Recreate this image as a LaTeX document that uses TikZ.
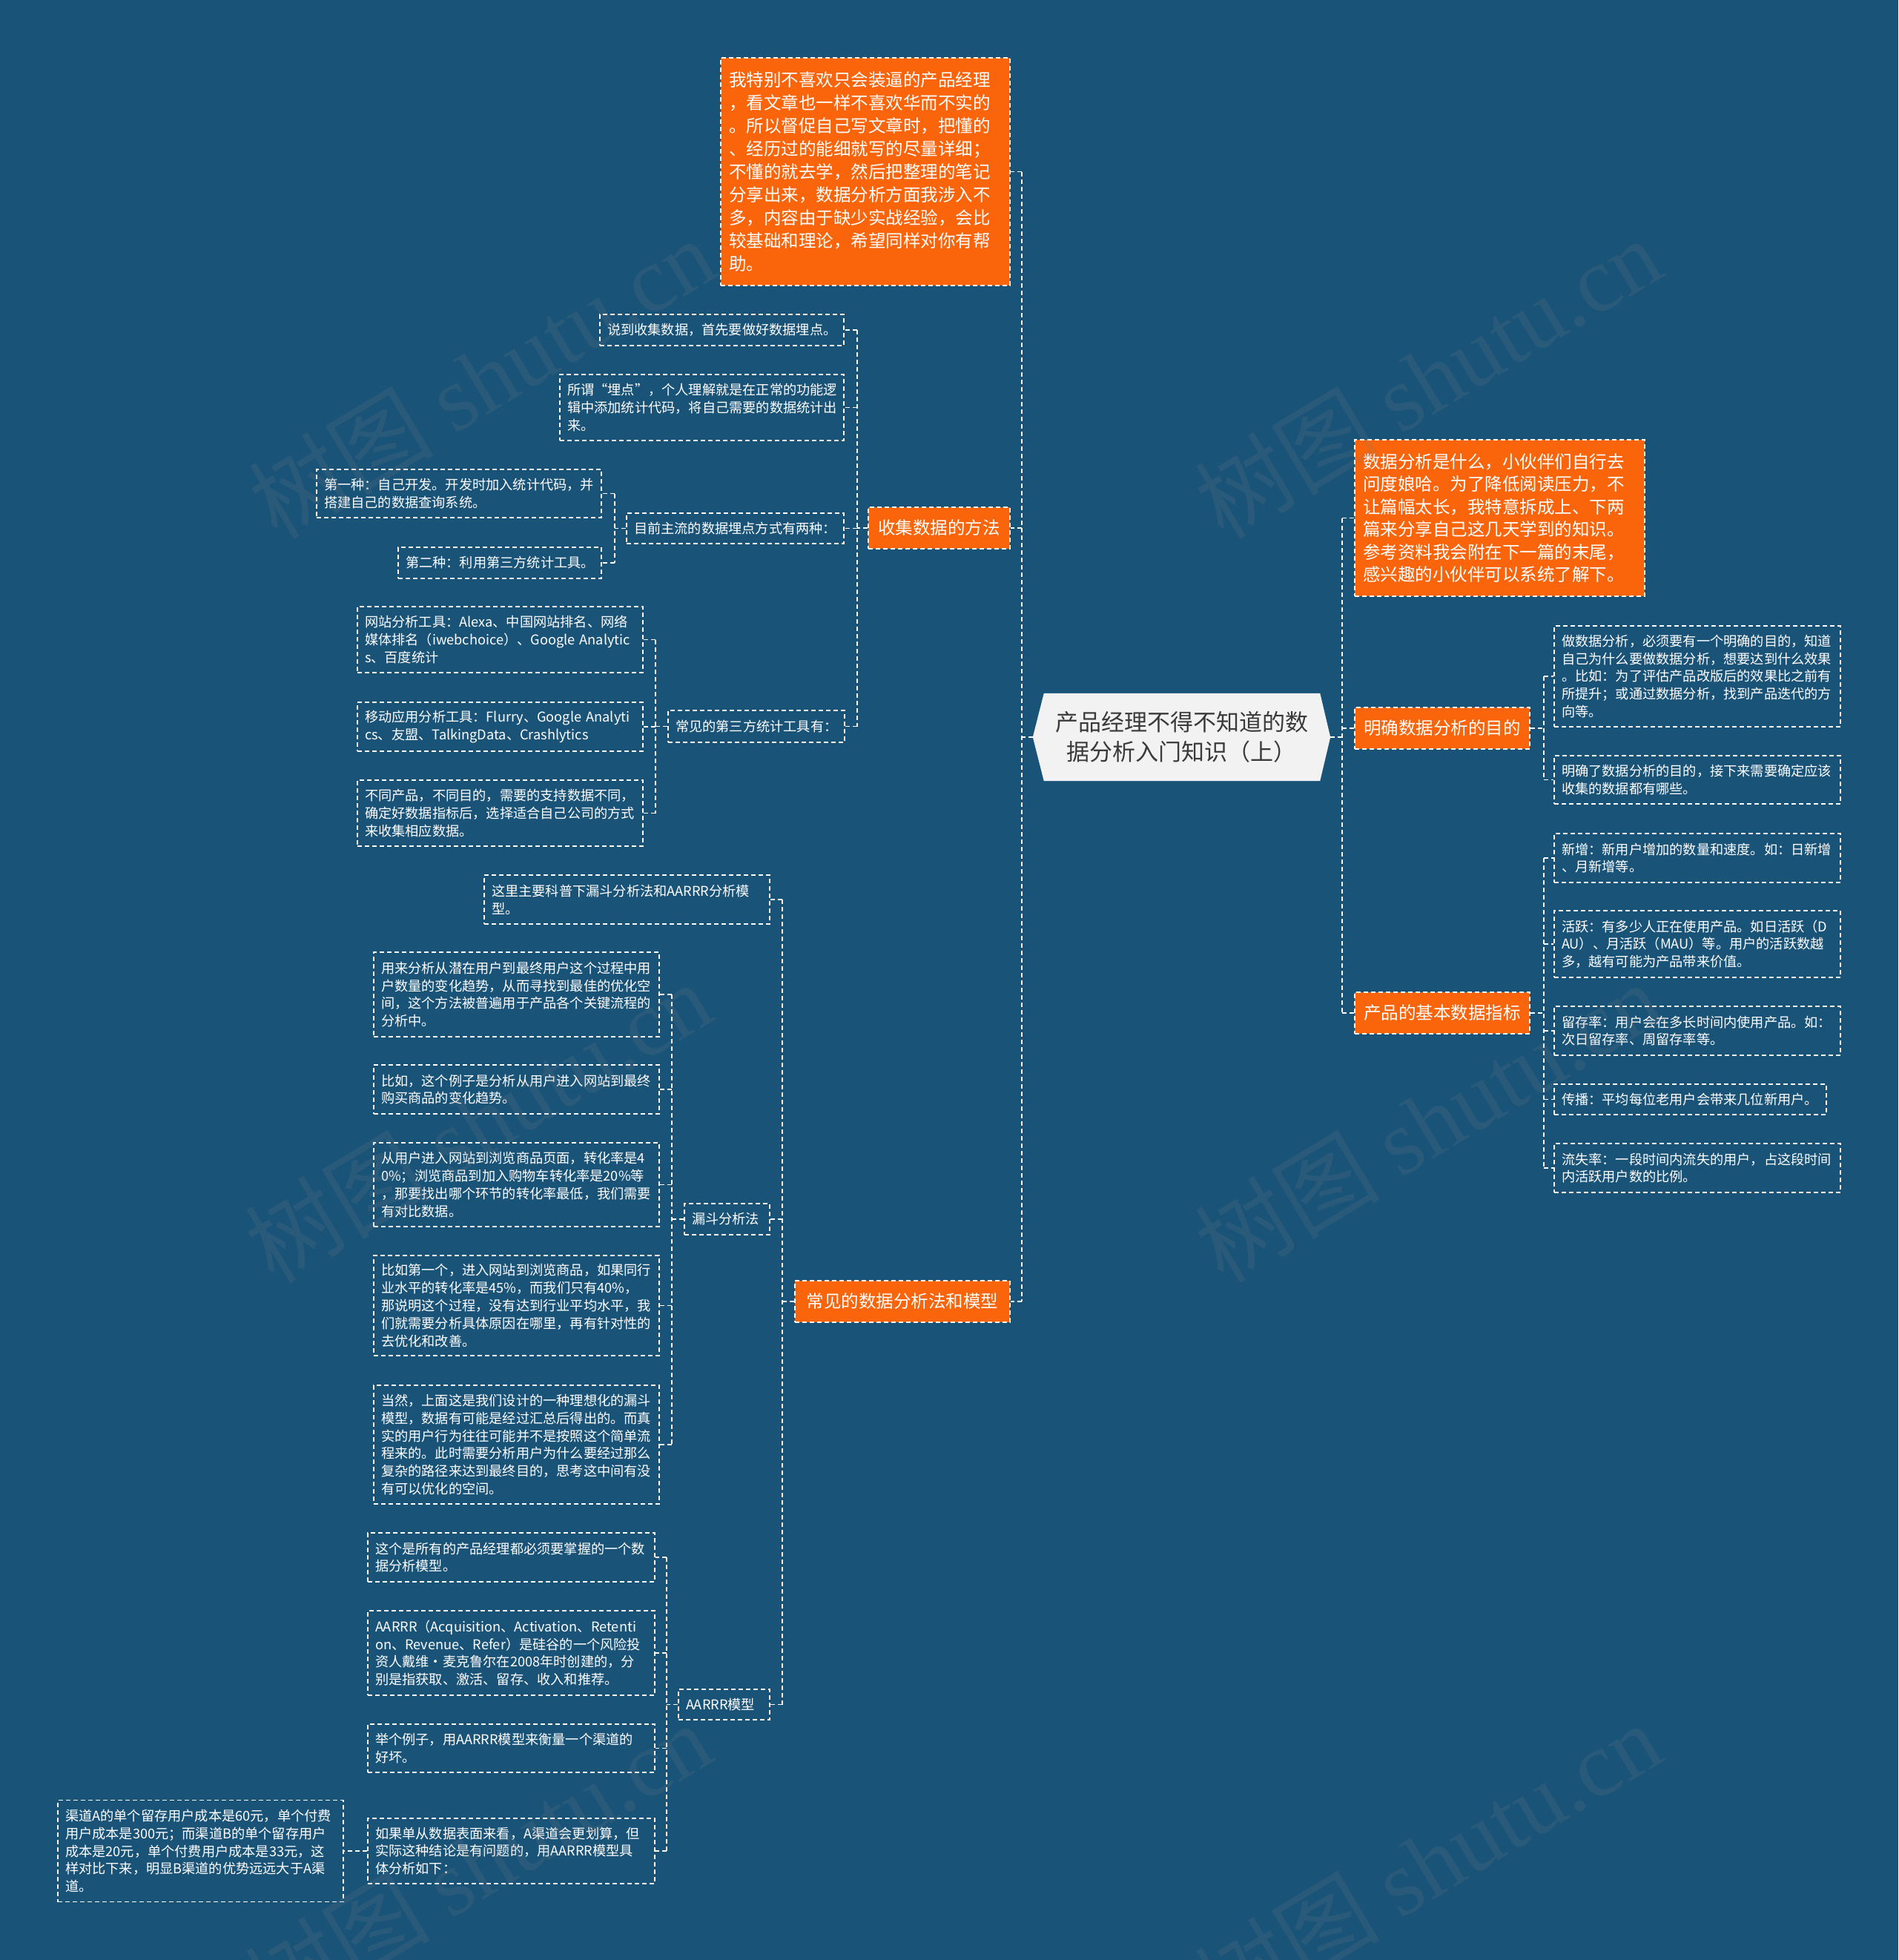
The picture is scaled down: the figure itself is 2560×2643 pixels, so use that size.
\documentclass[tikz,border=0pt]{standalone}
\usepackage{fontspec}
\setmainfont{Noto Sans CJK SC}
\newfontfamily\wmlatin{Liberation Serif}
\usetikzlibrary{backgrounds}
\definecolor{bgblue}{HTML}{1A5378}
\definecolor{orng}{HTML}{FA640A}
\definecolor{ctrfill}{HTML}{F2F2F2}
\definecolor{ctrtext}{HTML}{3A3A3A}
\newcommand\fsmall{\fontsize{18.2pt}{23.8pt}\selectfont}
\newcommand\fmid{\fontsize{23.5pt}{31pt}\selectfont}
\newcommand\fmidb{\fontsize{23.5pt}{30.5pt}\selectfont}
\newcommand\ftitle{\fontsize{31pt}{40pt}\selectfont}
\newcommand\fwm{\fontsize{125pt}{125pt}\selectfont}
\tikzset{
  dsh/.style={line width=1.5pt, dash pattern=on 6pt off 4pt},
  leaf/.style={draw=white, dsh, text=white, font=\fsmall, align=left, inner xsep=10pt, inner ysep=0pt},
  obox/.style={fill=orng, draw=white, dsh, text=white, inner xsep=11pt, inner ysep=0pt},
  ohead/.style={obox, font=\fmid, align=center},
  conn/.style={draw=white, dsh},
  wm/.style={text=gray, opacity=0.16, rotate=31, font=\fwm, inner sep=0pt}
}
\newcommand\lefttree[5]{%
  \draw[conn] (#1.west) -- (#1.west -| #2);
  \draw[conn] (#3.east -| #2) -- (#4.east -| #2);
  \foreach \k in {#5} {\draw[conn] (\k.east -| #2) -- (\k.east);}
}
\newcommand\righttree[5]{%
  \draw[conn] (#1.east) -- (#1.east -| #2);
  \draw[conn] (#3.west -| #2) -- (#4.west -| #2);
  \foreach \k in {#5} {\draw[conn] (\k.west -| #2) -- (\k.west);}
}
\begin{document}
\begin{tikzpicture}[x=1pt,y=-1pt]
\useasboundingbox (0,0) rectangle (2560,2643);

% bus positions
\coordinate (busL) at (1378,0);
\coordinate (busR) at (1810,0);
\coordinate (busLtwo) at (1156,0);
\coordinate (busLtwoc) at (829,0);
\coordinate (busLtwod) at (884,0);
\coordinate (busLthree) at (1055,0);
\coordinate (busLthreeb) at (906,0);
\coordinate (busLthreec) at (899,0);
\coordinate (busRside) at (2082,0);

% centre
\node[font=\ftitle, text=ctrtext, align=center, minimum width=401, minimum height=118, inner sep=0pt] (ctr) at (1593.5,994) {产品经理不得不知道的数\\据分析入门知识（上）};

% left main branches
\node[obox, font=\fmid, align=left, text width=368, minimum height=307] (Lone) at (1167,231.5) {我特别不喜欢只会装逼的产品经理\\，看文章也一样不喜欢华而不实的\\。所以督促自己写文章时，把懂的\\、经历过的能细就写的尽量详细；\\不懂的就去学，然后把整理的笔记\\分享出来，数据分析方面我涉入不\\多，内容由于缺少实战经验，会比\\较基础和理论，希望同样对你有帮\\助。};
\node[ohead, minimum width=191, minimum height=56] (Ltwo) at (1266.5,712) {收集数据的方法};
\node[ohead, minimum width=290, minimum height=56] (Lthree) at (1217,1755) {常见的数据分析法和模型};

% right main branches
\node[obox, font=\fmidb, align=left, text width=369, minimum height=211] (Rone) at (2022.5,698.5) {数据分析是什么，小伙伴们自行去\\问度娘哈。为了降低阅读压力，不\\让篇幅太长，我特意拆成上、下两\\篇来分享自己这几天学到的知识。\\参考资料我会附在下一篇的末尾，\\感兴趣的小伙伴可以系统了解下。};
\node[ohead, minimum width=236, minimum height=56] (Rtwo) at (1945,982) {明确数据分析的目的};
\node[ohead, minimum width=236, minimum height=56] (Rthree) at (1945,1366) {产品的基本数据指标};

% 收集数据的方法 children
\node[leaf, text width=309, minimum height=42] (La) at (973.5,445) {说到收集数据，首先要做好数据埋点。};
\node[leaf, text width=363, minimum height=89] (Lb) at (946.5,549.5) {所谓“埋点”，个人理解就是在正常的功能逻\\辑中添加统计代码，将自己需要的数据统计出\\来。};
\node[leaf, text width=273, minimum height=41] (Lc) at (991.5,712.5) {目前主流的数据埋点方式有两种：};
\node[leaf, text width=364, minimum height=65] (Lca) at (619,665.5) {第一种：自己开发。开发时加入统计代码，并\\搭建自己的数据查询系统。};
\node[leaf, text width=254, minimum height=42] (Lcb) at (674,759) {第二种：利用第三方统计工具。};
\node[leaf, text width=218, minimum height=43] (Ld) at (1020,979.5) {常见的第三方统计工具有：};
\node[leaf, text width=365, minimum height=89] (Lda) at (674.5,862.5) {网站分析工具：Alexa、中国网站排名、网络\\媒体排名（iwebchoice）、Google~Analytic\\s、百度统计};
\node[leaf, text width=365, minimum height=66] (Ldb) at (674.5,980) {移动应用分析工具：Flurry、Google~Analyti\\cs、友盟、TalkingData、Crashlytics};
\node[leaf, text width=365, minimum height=89] (Ldc) at (674.5,1096.5) {不同产品，不同目的，需要的支持数据不同，\\确定好数据指标后，选择适合自己公司的方式\\来收集相应数据。};

% 常见的数据分析法和模型 children
\node[leaf, text width=365, minimum height=66] (Ma) at (845.5,1213) {这里主要科普下漏斗分析法和AARRR分析模\\型。};
\node[leaf, text width=95, minimum height=42] (Mb) at (980.5,1644) {漏斗分析法};
\node[leaf, text width=365, minimum height=114] (Mba) at (696.5,1341) {用来分析从潜在用户到最终用户这个过程中用\\户数量的变化趋势，从而寻找到最佳的优化空\\间，这个方法被普遍用于产品各个关键流程的\\分析中。};
\node[leaf, text width=365, minimum height=66] (Mbb) at (696.5,1469) {比如，这个例子是分析从用户进入网站到最终\\购买商品的变化趋势。};
\node[leaf, text width=365, minimum height=113] (Mbc) at (696.5,1597.5) {从用户进入网站到浏览商品页面，转化率是4\\0\%；浏览商品到加入购物车转化率是20\%等\\，那要找出哪个环节的转化率最低，我们需要\\有对比数据。};
\node[leaf, text width=365, minimum height=135] (Mbd) at (696.5,1760.5) {比如第一个，进入网站到浏览商品，如果同行\\业水平的转化率是45\%，而我们只有40\%，\\那说明这个过程，没有达到行业平均水平，我\\们就需要分析具体原因在哪里，再有针对性的\\去优化和改善。};
\node[leaf, text width=365, minimum height=160] (Mbe) at (696.5,1948) {当然，上面这是我们设计的一种理想化的漏斗\\模型，数据有可能是经过汇总后得出的。而真\\实的用户行为往往可能并不是按照这个简单流\\程来的。此时需要分析用户为什么要经过那么\\复杂的路径来达到最终目的，思考这中间有没\\有可以优化的空间。};
\node[leaf, text width=103, minimum height=41] (Mc) at (976.5,2298.5) {AARRR模型};
\node[leaf, text width=367, minimum height=66] (Mca) at (689.5,2100) {这个是所有的产品经理都必须要掌握的一个数\\据分析模型。};
\node[leaf, text width=367, minimum height=114] (Mcb) at (689.5,2229) {AARRR（Acquisition、Activation、Retenti\\on、Revenue、Refer）是硅谷的一个风险投\\资人戴维·麦克鲁尔在2008年时创建的，分\\别是指获取、激活、留存、收入和推荐。};
\node[leaf, text width=367, minimum height=65] (Mcc) at (689.5,2357.5) {举个例子，用AARRR模型来衡量一个渠道的\\好坏。};
\node[leaf, text width=367, minimum height=88] (Mcd) at (689.5,2496) {如果单从数据表面来看，A渠道会更划算，但\\实际这种结论是有问题的，用AARRR模型具\\体分析如下：};
\node[leaf, text width=365, minimum height=137] (Mcda) at (270.5,2496) {渠道A的单个留存用户成本是60元，单个付费\\用户成本是300元；而渠道B的单个留存用户\\成本是20元，单个付费用户成本是33元，这\\样对比下来，明显B渠道的优势远远大于A渠\\道。};

% 明确数据分析的目的 children
\node[leaf, text width=366, minimum height=136] (Ra) at (2289,912) {做数据分析，必须要有一个明确的目的，知道\\自己为什么要做数据分析，想要达到什么效果\\。比如：为了评估产品改版后的效果比之前有\\所提升；或通过数据分析，找到产品迭代的方\\向等。};
\node[leaf, text width=366, minimum height=65] (Rb) at (2289,1051.5) {明确了数据分析的目的，接下来需要确定应该\\收集的数据都有哪些。};

% 产品的基本数据指标 children
\node[leaf, text width=366, minimum height=66] (Sa) at (2289,1157) {新增：新用户增加的数量和速度。如：日新增\\、月新增等。};
\node[leaf, text width=366, minimum height=90] (Sb) at (2289,1273) {活跃：有多少人正在使用产品。如日活跃（D\\AU）、月活跃（MAU）等。用户的活跃数越\\多，越有可能为产品带来价值。};
\node[leaf, text width=366, minimum height=66] (Sc) at (2289,1390) {留存率：用户会在多长时间内使用产品。如：\\次日留存率、周留存率等。};
\node[leaf, text width=347, minimum height=41] (Sd) at (2279.5,1482.5) {传播：平均每位老用户会带来几位新用户。};
\node[leaf, text width=366, minimum height=66] (Se) at (2289,1575) {流失率：一段时间内流失的用户，占这段时间\\内活跃用户数的比例。};

% connectors
\lefttree{ctr}{busL}{Lone}{Lthree}{Lone,Ltwo,Lthree}
\righttree{ctr}{busR}{Rone}{Rthree}{Rone,Rtwo,Rthree}
\lefttree{Ltwo}{busLtwo}{La}{Ld}{La,Lb,Lc,Ld}
\lefttree{Lc}{busLtwoc}{Lca}{Lcb}{Lca,Lcb}
\lefttree{Ld}{busLtwod}{Lda}{Ldc}{Lda,Ldb,Ldc}
\lefttree{Lthree}{busLthree}{Ma}{Mc}{Ma,Mb,Mc}
\lefttree{Mb}{busLthreeb}{Mba}{Mbe}{Mba,Mbb,Mbc,Mbd,Mbe}
\lefttree{Mc}{busLthreec}{Mca}{Mcd}{Mca,Mcb,Mcc,Mcd}
\draw[conn] (Mcd.west) -- (Mcda.east);
\righttree{Rtwo}{busRside}{Ra}{Rb}{Ra,Rb}
\righttree{Rthree}{busRside}{Sa}{Se}{Sa,Sb,Sc,Sd,Se}

% background and centre shape
\begin{scope}[on background layer]
\fill[bgblue] (0,0) rectangle (2560,2643);
\fill[ctrfill] (ctr.west) -- ([xshift=15pt]ctr.north west) -- ([xshift=-14pt]ctr.north east) -- (ctr.east) -- ([xshift=-14pt]ctr.south east) -- ([xshift=15pt]ctr.south west) -- cycle;
\end{scope}

% watermarks
\node[wm] (wma) at (649,509) {树图 {\wmlatin shutu.cn}};
\node[wm] (wmb) at (1925,509) {树图 {\wmlatin shutu.cn}};
\node[wm] (wmc) at (644,1512) {树图 {\wmlatin shutu.cn}};
\node[wm] (wmd) at (1925,1512) {树图 {\wmlatin shutu.cn}};
\node[wm] (wme) at (644,2511) {树图 {\wmlatin shutu.cn}};
\node[wm] (wmf) at (1925,2511) {树图 {\wmlatin shutu.cn}};
\end{tikzpicture}
\end{document}
